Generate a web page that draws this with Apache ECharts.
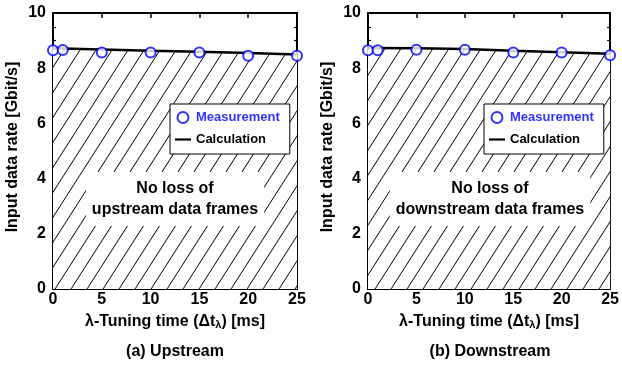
<!DOCTYPE html>
<html><head><meta charset="utf-8">
<script src="https://cdn.jsdelivr.net/npm/echarts@6/dist/echarts.min.js"></script>
<style>html,body{margin:0;padding:0;background:#fff}#c{width:622px;height:367px}</style>
</head><body><div id="c"></div>
<script>
// ---- data ----
const measX = [0, 1, 5, 10, 15, 20, 25];
const upMeas = [8.65, 8.66, 8.57, 8.57, 8.57, 8.45, 8.45];
const downMeas = [8.65, 8.65, 8.67, 8.67, 8.57, 8.57, 8.47];
const calcX = [0, 5, 10, 15, 20, 25];
const upCalc = [8.72, 8.68, 8.63, 8.60, 8.55, 8.50];
const downCalc = [8.73, 8.72, 8.70, 8.63, 8.58, 8.52];
const xTicks = [0, 5, 10, 15, 20, 25];
const yTicks = [0, 2, 4, 6, 8, 10];
const captions = ['(a) Upstream', '(b) Downstream'];
const notes = ['No loss of\nupstream data frames', 'No loss of\ndownstream data frames'];

const pair = (xs, ys) => xs.map((x, i) => [x, ys[i]]);

// hatch pattern
const pc = document.createElement('canvas');
pc.width = 16; pc.height = 25;
const g = pc.getContext('2d');
g.fillStyle = '#fff'; g.fillRect(0, 0, 16, 25);
g.strokeStyle = '#000'; g.lineWidth = 1;
[-16, 0, 16].forEach(dx => {
  g.beginPath(); g.moveTo(dx, 25); g.lineTo(dx + 16, 0); g.stroke();
});

const font = 'Arial, "Liberation Sans", sans-serif';
const blue = '#0000ff';
const grids = [
  { left: 53, right: 325, top: 13, bottom: 78 },
  { left: 368, right: 10, top: 13, bottom: 78 }
];
const axLine = { show: true, onZero: false, lineStyle: { color: '#000', width: 2 } };
const xAxes = [], yAxes = [];
[0, 1].forEach(gi => {
  xAxes.push({
    gridIndex: gi, type: 'value', min: xTicks[0], max: xTicks[xTicks.length - 1], interval: 5,
    position: 'bottom', axisLine: axLine,
    axisTick: { inside: true, length: 5, lineStyle: { color: '#000', width: 1.5 } },
    axisLabel: { margin: 3, color: '#000', fontWeight: 'bold', fontSize: 16, fontFamily: font },
    splitLine: { show: false },
    name: 'λ-Tuning time (Δt{s|λ}) [ms]', nameLocation: 'middle', nameGap: 24,
    nameTextStyle: { color: '#000', fontWeight: 'bold', fontSize: 16, fontFamily: font,
      rich: { s: { fontSize: 11, fontWeight: 'bold', fontFamily: font, color: '#000', padding: [6, 0, 0, 0] } } }
  });
  xAxes.push({
    gridIndex: gi, type: 'value', min: 0, max: 25, interval: 5, position: 'top',
    axisLine: axLine, axisTick: { inside: true, length: 5, lineStyle: { color: '#000', width: 1.5 } },
    axisLabel: { show: false }, splitLine: { show: false }
  });
  yAxes.push({
    gridIndex: gi, type: 'value', min: yTicks[0], max: yTicks[yTicks.length - 1], interval: 2,
    position: 'left', axisLine: axLine,
    axisTick: { inside: true, length: 5, lineStyle: { color: '#000', width: 1.5 } },
    minorTick: { show: true, splitNumber: 4, length: 3, lineStyle: { color: '#000', width: 1.2 } },
    axisLabel: { margin: 7, color: '#000', fontWeight: 'bold', fontSize: 16, fontFamily: font },
    splitLine: { show: false },
    name: 'Input data rate [Gbit/s]', nameLocation: 'middle', nameGap: 32, nameRotate: 90,
    nameTextStyle: { color: '#000', fontWeight: 'bold', fontSize: 16, fontFamily: font, padding: [0, 0, 0, 8] }
  });
  yAxes.push({
    gridIndex: gi, type: 'value', min: 0, max: 10, interval: 2, position: 'right',
    axisLine: axLine, axisTick: { inside: true, length: 5, lineStyle: { color: '#000', width: 1.5 } },
    minorTick: { show: true, splitNumber: 4, length: 3, lineStyle: { color: '#000', width: 1.2 } },
    axisLabel: { show: false }, splitLine: { show: false }
  });
});

const series = [];
[[upCalc, upMeas], [downCalc, downMeas]].forEach(([calc, meas], gi) => {
  series.push({
    name: 'Calculation', type: 'line', xAxisIndex: gi * 2, yAxisIndex: gi * 2,
    data: pair(calcX, calc), symbol: 'none', lineStyle: { color: '#000', width: 2.5 },
    itemStyle: { color: '#000' },
    areaStyle: { color: { image: pc, repeat: 'repeat' }, opacity: 1 }, z: 2, animation: false
  });
  series.push({
    name: 'Measurement', type: 'scatter', xAxisIndex: gi * 2, yAxisIndex: gi * 2,
    data: pair(measX, meas), symbol: 'circle', symbolSize: 10, clip: false,
    itemStyle: { color: '#fff', borderColor: blue, borderWidth: 2 }, z: 5, animation: false
  });
});

const legendFor = (left) => ({
  orient: 'vertical', left: left, top: 104,
  backgroundColor: '#fff', borderColor: '#000', borderWidth: 1,
  padding: [7, 10, 8, 5], itemWidth: 16, itemHeight: 11, itemGap: 9,
  textStyle: { fontWeight: 'bold', fontSize: 13, fontFamily: font, color: '#000' },
  selectedMode: false,
  data: [
    { name: 'Measurement', icon: 'circle', itemStyle: { color: '#fff', borderColor: blue, borderWidth: 2 },
      textStyle: { color: '#3333ff', fontWeight: 'bold', fontSize: 13, fontFamily: font } },
    { name: 'Calculation', icon: 'path://M0,0L16,0L16,2.2L0,2.2Z', itemStyle: { color: '#000', borderWidth: 0 } }
  ]
});

const graphic = [];
[175, 490].forEach((cx, i) => {
  graphic.push({
    type: 'text', x: cx, y: 199, z: 50,
    style: { text: notes[i], font: 'bold 16px ' + font, fill: '#000',
      align: 'center', verticalAlign: 'middle', textAlign: 'center', textVerticalAlign: 'middle',
      lineHeight: 21, backgroundColor: '#fff', padding: [7, 6, 5, 6] }
  });
  graphic.push({
    type: 'text', x: cx, y: 352, z: 50,
    style: { text: captions[i], font: 'bold 16px ' + font, fill: '#000',
      align: 'center', verticalAlign: 'middle', textAlign: 'center', textVerticalAlign: 'middle' }
  });
});

const chart = echarts.init(document.getElementById('c'), null, { renderer: 'canvas' });
chart.setOption({
  animation: false, backgroundColor: '#fff',
  grid: grids, xAxis: xAxes, yAxis: yAxes, series: series,
  legend: [legendFor(170), legendFor(484)], graphic: graphic
});
</script></body></html>
